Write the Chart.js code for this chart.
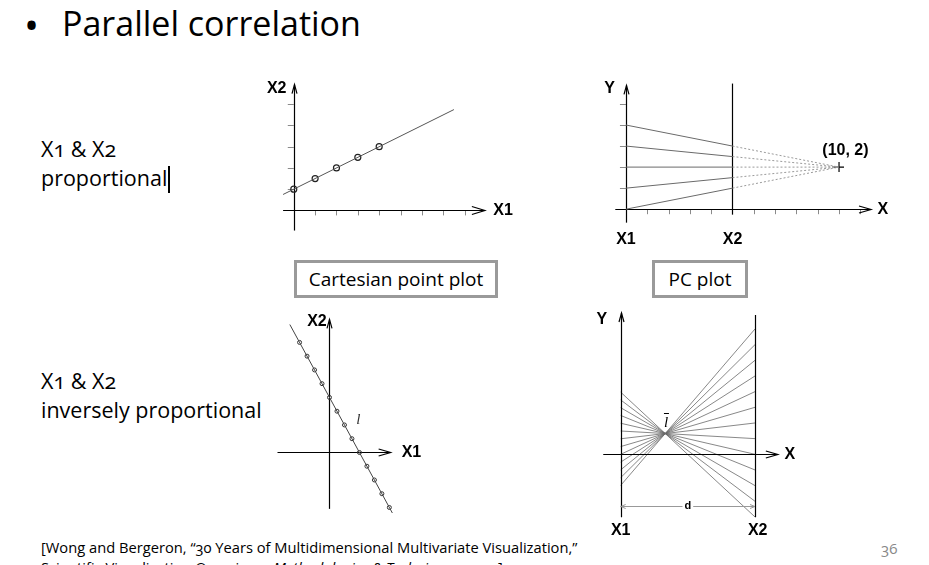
<!DOCTYPE html>
<html>
<head>
<meta charset="utf-8">
<title>Parallel correlation</title>
<script src="https://cdn.jsdelivr.net/npm/chart.js@4.4.0/dist/chart.umd.min.js"></script>
<style>
  body { margin: 0; width: 929px; height: 565px; overflow: hidden; background: #fff; position: relative; font-family: "Open Sans", sans-serif; color: #000; }
  .txt { position: absolute; white-space: nowrap; line-height: 1; font-variant-numeric: oldstyle-nums; }
  .box { position: absolute; border: 3px solid #9a9a9a; box-sizing: border-box; font-size: 19px; display: flex; align-items: center; justify-content: center; }
  canvas { position: absolute; }
</style>
</head>
<body>
<div class="txt" style="left:24px;top:5px;font-size:40px;">•</div>
<div class="txt" style="left:62px;top:6px;font-size:34px;">Parallel correlation</div>

<div class="txt" style="left:41px;top:138px;font-size:21.5px;">X1 &amp; X2</div>
<div class="txt" style="left:41px;top:167px;font-size:21.5px;">proportional</div>
<div style="position:absolute;left:168px;top:166px;width:1.5px;height:27px;background:#000;"></div>

<div class="txt" style="left:41px;top:370px;font-size:21.5px;">X1 &amp; X2</div>
<div class="txt" style="left:41px;top:399px;font-size:21.5px;">inversely proportional</div>

<div class="box" style="left:294px;top:260px;width:204px;height:38px;">Cartesian point plot</div>
<div class="box" style="left:652px;top:260px;width:96px;height:38px;">PC plot</div>

<div class="txt" style="left:41px;top:540px;font-size:14.7px;">[Wong and Bergeron, “30 Years of Multidimensional Multivariate Visualization,”</div>
<div class="txt" style="left:41px;top:560px;font-size:14.7px;">Scientific Visualization Overviews, <i>Methodologies &amp; Techniques</i>, 1997]</div>
<div class="txt" style="left:881px;top:541px;font-size:15px;color:#888;">36</div>

<canvas id="c1" width="270" height="170" style="left:260px;top:70px;"></canvas>
<canvas id="c2" width="310" height="190" style="left:590px;top:70px;"></canvas>
<canvas id="c3" width="180" height="225" style="left:260px;top:300px;"></canvas>
<canvas id="c4" width="220" height="245" style="left:590px;top:300px;"></canvas>

<script>
// X1 & X2 proportional (x2 = 1 + x1/2)
const propX1 = [0, 1, 2, 3, 4];
const propX2 = [1, 1.5, 2, 2.5, 3];
const propLineX = [-0.5, 7.5];
const propLineY = [0.75, 4.75];
const propTicksX = [1, 2, 3, 4, 5, 6, 7, 8];
const propTicksY = [1, 2, 3, 4, 5];

// the same points as lines between the X1 and X2 axes
const pcX1 = [4, 3, 2, 1, 0];
const pcX2 = [3, 2.5, 2, 1.5, 1];
const pcMeet = [10, 2];
const pcTicksX = [1, 2, 3, 4, 6, 7, 8, 9, 10, 11];
const pcTicksY = [1, 2, 3, 4, 5];

// X1 & X2 inversely proportional
const invX1 = [-4, -3, -2, -1, 0, 1, 2, 3, 4, 5, 6, 7, 8];
const invX2 = [8, 7, 6, 5, 4, 3, 2, 1, 0, -1, -2, -3, -4];
const invLineX = [-5.3, 8.4];
const invLineY = [9.3, -4.4];

const LABEL_FONT = 'bold 16px "Liberation Sans", Arial, sans-serif';

function arrowLine(ctx, x0, y0, x1, y1, head, wing) {
    ctx.beginPath();
    ctx.moveTo(x0, y0);
    ctx.lineTo(x1, y1);
    ctx.stroke();
    if (!head) return;
    const ang = Math.atan2(y1 - y0, x1 - x0);
    const bx = x1 - head * Math.cos(ang), by = y1 - head * Math.sin(ang);
    const nx = -Math.sin(ang) * wing, ny = Math.cos(ang) * wing;
    ctx.beginPath();
    ctx.moveTo(bx + nx, by + ny);
    ctx.lineTo(x1, y1);
    ctx.lineTo(bx - nx, by - ny);
    ctx.stroke();
}

// draws axes, ticks, PC lines and labels from the chart's own scales
const diagram = {
    id: 'diagram',
    beforeDatasetsDraw(chart, args, opts) {
        const ctx = chart.ctx;
        const xs = chart.scales.x, ys = chart.scales.y;
        ctx.save();
        if (opts.pcLines) {
            const y2 = chart.scales.y2;
            ctx.strokeStyle = '#6a6a6a';
            ctx.lineWidth = 0.8;
            opts.pcLines.a.forEach((a, i) => {
                ctx.beginPath();
                ctx.moveTo(xs.getPixelForValue(0), ys.getPixelForValue(a));
                ctx.lineTo(xs.getPixelForValue(1), y2.getPixelForValue(opts.pcLines.b[i]));
                ctx.stroke();
            });
        }
        ctx.strokeStyle = '#8a8a8a';
        ctx.lineWidth = 1;
        (opts.ticksX || []).forEach(v => {
            const x = Math.round(xs.getPixelForValue(v)) + 0.5, y = ys.getPixelForValue(0);
            ctx.beginPath(); ctx.moveTo(x, y); ctx.lineTo(x, y + 5); ctx.stroke();
        });
        (opts.ticksY || []).forEach(v => {
            const y = Math.round(ys.getPixelForValue(v)) + 0.5, x = xs.getPixelForValue(0);
            ctx.beginPath(); ctx.moveTo(x - 6, y); ctx.lineTo(x, y); ctx.stroke();
        });
        (opts.axes || []).forEach(a => {
            ctx.strokeStyle = a.color || '#000';
            ctx.lineWidth = a.width || 1.2;
            let x0 = xs.getPixelForValue(a.from[0]), y0 = ys.getPixelForValue(a.from[1]);
            let x1 = xs.getPixelForValue(a.to[0]), y1 = ys.getPixelForValue(a.to[1]);
            if (x0 === x1) { x0 = x1 = Math.round(x0) + 0.5; }
            if (y0 === y1) { y0 = y1 = Math.round(y0) + 0.5; }
            arrowLine(ctx, x0, y0, x1, y1, a.head, a.wing);
            if (a.both) arrowLine(ctx, x1, y1, x0, y0, a.head, a.wing);
        });
        ctx.restore();
    },
    afterDatasetsDraw(chart, args, opts) {
        const ctx = chart.ctx;
        const xs = chart.scales.x, ys = chart.scales.y;
        ctx.save();
        ctx.textAlign = 'center';
        ctx.textBaseline = 'middle';
        (opts.labels || []).forEach(l => {
            const x = xs.getPixelForValue(l.at[0]), y = ys.getPixelForValue(l.at[1]);
            ctx.font = l.font || LABEL_FONT;
            if (l.bg) {
                const w = ctx.measureText(l.text).width;
                ctx.fillStyle = '#fff';
                ctx.fillRect(x - w / 2 - 2, y - 6, w + 4, 12);
            }
            ctx.fillStyle = l.color || '#000';
            ctx.fillText(l.text, x, y);
            if (l.bar) {
                ctx.strokeStyle = '#000';
                ctx.lineWidth = 1;
                ctx.beginPath(); ctx.moveTo(x - 2, y - 9.5); ctx.lineTo(x + 3, y - 9.5); ctx.stroke();
            }
        });
        ctx.restore();
    }
};

function pts(xs, ys) {
    return xs.map((x, i) => ({ x: x, y: ys[i] }));
}

function makeChart(id, datasets, scales, diagramOpts) {
    return new Chart(document.getElementById(id), {
        type: 'scatter',
        data: { datasets: datasets },
        options: {
            responsive: false,
            animation: false,
            devicePixelRatio: 1,
            layout: { padding: 0 },
            scales: scales,
            plugins: { legend: { display: false }, tooltip: { enabled: false }, diagram: diagramOpts },
            events: []
        },
        plugins: [diagram]
    });
}

const hidden = (min, max) => ({ type: 'linear', display: false, min: min, max: max });

// top left: Cartesian plot
makeChart('c1', [
    { data: pts(propLineX, propLineY), showLine: true, borderColor: '#555', borderWidth: 1, pointRadius: 0 },
    { data: pts(propX1, propX2), pointRadius: 3, pointBorderColor: '#222', pointBorderWidth: 1.2, pointBackgroundColor: 'rgba(0,0,0,0)' }
], { x: hidden(-1.338, 10.82), y: hidden(-1.15, 6.37) }, {
    ticksX: propTicksX, ticksY: propTicksY,
    axes: [
        { from: [-0.5, 0], to: [8.95, 0], head: 13, wing: 4 },
        { from: [0, -0.95], to: [0, 5.93], head: 9, wing: 2.5 }
    ],
    labels: [
        { text: 'X2', at: [-0.8, 5.75] },
        { text: 'X1', at: [9.8, 0] }
    ]
});

// top right: PC plot
const pcSets = [];
pcX1.forEach((a, i) => {
    pcSets.push({ data: [{ x: 0, y: a }, { x: 5, y: pcX2[i] }], showLine: true, borderColor: '#6a6a6a', borderWidth: 1, pointRadius: 0 });
    pcSets.push({ data: [{ x: 5, y: pcX2[i] }, { x: pcMeet[0], y: pcMeet[1] }], showLine: true, borderColor: '#9a9a9a', borderWidth: 1, borderDash: [2, 2], pointRadius: 0 });
});
pcSets.push({ data: [{ x: pcMeet[0], y: pcMeet[1] }], pointStyle: 'cross', pointRadius: 5, pointBorderColor: '#000', pointBorderWidth: 1.2 });
makeChart('c2', pcSets, { x: hidden(-1.396, 12.57), y: hidden(-2.12, 6.32) }, {
    ticksX: pcTicksX, ticksY: pcTicksY,
    axes: [
        { from: [-0.5, 0], to: [11.5, 0], head: 12, wing: 3.5 },
        { from: [0, -0.64], to: [0, 5.88], head: 9, wing: 2.5 },
        { from: [5, -0.26], to: [5, 5.97] }
    ],
    labels: [
        { text: 'Y', at: [-0.77, 5.75] },
        { text: 'X', at: [12.05, 0] },
        { text: 'X1', at: [0, -1.45] },
        { text: 'X2', at: [5, -1.45] },
        { text: '(10, 2)', at: [10.3, 2.77] }
    ]
});

// bottom left: inversely proportional points
makeChart('c3', [
    { data: pts(invLineX, invLineY), showLine: true, borderColor: '#444', borderWidth: 1, pointRadius: 0 },
    { data: pts(invX1, invX2), pointRadius: 2, pointBorderColor: '#333', pointBorderWidth: 1, pointBackgroundColor: 'rgba(0,0,0,0)' }
], { x: hidden(-8.62, 14.1), y: hidden(-4.91, 10.72) }, {
    axes: [
        { from: [-6.95, 0], to: [8.17, 0], head: 12, wing: 3.5 },
        { from: [0, -4.1], to: [0, 9.67], head: 9, wing: 2.5 }
    ],
    labels: [
        { text: 'X2', at: [-1.68, 9.53] },
        { text: 'X1', at: [10.95, 0] },
        { text: 'l', at: [3.86, 2.38], font: 'italic 15px "Liberation Serif", serif', color: '#333' }
    ]
});

// bottom right: PC plot of the inverse points, d = distance between axes
makeChart('c4', [
    { data: [], yAxisID: 'y' },
    { data: [], yAxisID: 'y2' }
], { x: hidden(-0.2286, 1.4095), y: hidden(-11.67, 19.86), y2: hidden(-5.79, 9.85) }, {
    pcLines: { a: invX1, b: invX2 },
    axes: [
        { from: [-0.13, 0], to: [1.17, 0], head: 12, wing: 3.5 },
        { from: [0, -8.1], to: [0, 18.19], head: 9, wing: 2.5 },
        { from: [1, -8.1], to: [1, 17.93] },
        { from: [0, -6.62], to: [1, -6.62], head: 5, wing: 2, both: true, color: '#999', width: 1 }
    ],
    labels: [
        { text: 'Y', at: [-0.14, 17.3] },
        { text: 'X', at: [1.26, 0] },
        { text: 'X1', at: [0, -9.87] },
        { text: 'X2', at: [1.02, -9.87] },
        { text: 'd', at: [0.5, -6.62], font: 'bold 11px "Liberation Sans", Arial, sans-serif', bg: true },
        { text: 'l', at: [0.337, 4.03], font: 'italic 15px "Liberation Serif", serif', bar: true }
    ]
});
</script>
</body>
</html>
